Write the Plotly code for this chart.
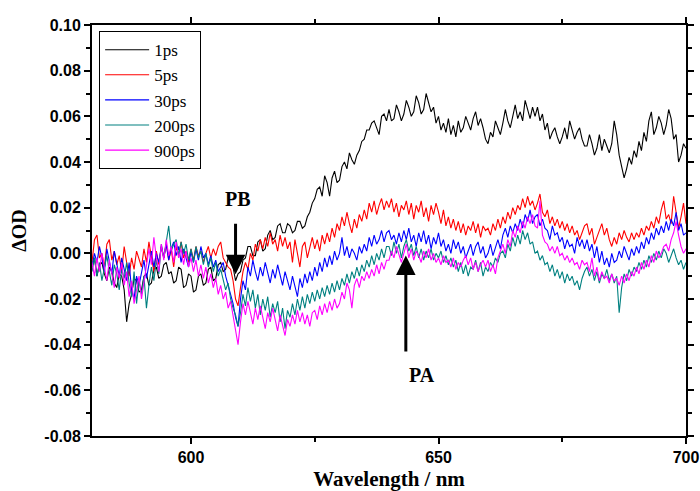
import numpy as np
import plotly.graph_objects as go

wavelength = np.arange(580.0, 700.01, 0.5)

od_1ps = [
    -0.006, -0.002, -0.010, -0.005, -0.004, -0.009, -0.012, -0.006, -0.008, -0.013, -0.015, -0.009, -0.010, -0.016, -0.030, -0.022, -0.018, -0.011, -0.012, -0.017,
    -0.016, -0.010, -0.009, -0.014, -0.013, -0.007, -0.006, -0.011, -0.010, -0.005, -0.004, -0.009, -0.008, -0.013, -0.012, -0.006, -0.007, -0.015, -0.014, -0.009,
    -0.010, -0.017, -0.016, -0.010, -0.009, -0.014, -0.013, -0.007, -0.006, -0.012, -0.011, -0.005, -0.004, -0.008, -0.007, -0.002, -0.003, -0.006, -0.012, -0.009,
    -0.008, -0.003, -0.002, 0.003, 0.003, -0.001, -0.001, 0.005, 0.006, 0.001, 0.002, 0.008, 0.010, 0.006, 0.007, 0.012, 0.013, 0.009, 0.009, 0.013,
    0.012, 0.009, 0.010, 0.014, 0.014, 0.011, 0.012, 0.016, 0.018, 0.022, 0.024, 0.028, 0.029, 0.025, 0.034, 0.031, 0.025, 0.033, 0.036, 0.031,
    0.032, 0.038, 0.040, 0.037, 0.044, 0.041, 0.039, 0.043, 0.045, 0.049, 0.050, 0.054, 0.054, 0.057, 0.058, 0.055, 0.052, 0.060, 0.061, 0.058,
    0.063, 0.058, 0.059, 0.065, 0.062, 0.058, 0.061, 0.067, 0.064, 0.060, 0.062, 0.069, 0.066, 0.061, 0.063, 0.070, 0.066, 0.062, 0.064, 0.057,
    0.060, 0.054, 0.057, 0.053, 0.059, 0.052, 0.056, 0.051, 0.058, 0.053, 0.055, 0.060, 0.057, 0.054, 0.059, 0.062, 0.056, 0.059, 0.055, 0.050,
    0.048, 0.053, 0.051, 0.058, 0.055, 0.052, 0.057, 0.063, 0.058, 0.055, 0.060, 0.065, 0.059, 0.062, 0.058, 0.067, 0.063, 0.059, 0.064, 0.060,
    0.064, 0.058, 0.061, 0.054, 0.057, 0.050, 0.053, 0.055, 0.051, 0.048, 0.051, 0.055, 0.050, 0.058, 0.054, 0.050, 0.053, 0.055, 0.050, 0.047,
    0.047, 0.052, 0.048, 0.043, 0.046, 0.052, 0.045, 0.050, 0.047, 0.044, 0.048, 0.058, 0.052, 0.043, 0.038, 0.033, 0.037, 0.042, 0.039, 0.045,
    0.042, 0.049, 0.045, 0.053, 0.049, 0.058, 0.062, 0.052, 0.055, 0.060, 0.057, 0.052, 0.056, 0.063, 0.059, 0.050, 0.052, 0.040, 0.043, 0.048,
    0.046,
]

od_5ps = [
    -0.004, 0.006, 0.008, -0.002, 0.000, -0.006, 0.004, 0.006, -0.003, 0.001, -0.005, -0.001, -0.008, 0.003, -0.004, -0.010, -0.002, -0.007, 0.001, -0.003,
    -0.006, 0.002, -0.004, 0.005, -0.002, -0.008, 0.001, -0.005, 0.003, -0.002, 0.004, -0.003, 0.002, -0.006, 0.003, -0.001, 0.005, -0.002, 0.001, -0.004,
    0.002, -0.003, 0.003, -0.001, 0.001, -0.004, 0.000, 0.003, -0.002, 0.002, -0.001, 0.003, 0.005, -0.002, -0.004, -0.006, -0.007, -0.012, -0.020, -0.023,
    -0.015, -0.008, -0.004, -0.007, 0.000, -0.003, 0.004, 0.001, 0.006, 0.002, 0.007, 0.003, 0.009, 0.004, 0.006, 0.001, 0.008, 0.003, 0.007, 0.002,
    0.005, -0.004, 0.006, 0.000, -0.006, 0.003, 0.005, -0.002, 0.003, 0.007, 0.002, 0.006, 0.001, 0.008, 0.004, 0.009, 0.005, 0.011, 0.007, 0.013,
    0.010, 0.016, 0.012, 0.018, 0.013, 0.009, 0.015, 0.011, 0.017, 0.014, 0.019, 0.015, 0.022, 0.018, 0.023, 0.017, 0.021, 0.024, 0.019, 0.023,
    0.020, 0.024, 0.018, 0.022, 0.016, 0.021, 0.019, 0.023, 0.017, 0.022, 0.015, 0.021, 0.018, 0.023, 0.016, 0.020, 0.014, 0.021, 0.017, 0.022,
    0.018, 0.013, 0.019, 0.012, 0.016, 0.011, 0.015, 0.010, 0.014, 0.009, 0.013, 0.008, 0.012, 0.010, 0.014, 0.009, 0.013, 0.007, 0.012, 0.010,
    0.011, 0.008, 0.013, 0.010, 0.015, 0.011, 0.016, 0.013, 0.018, 0.015, 0.020, 0.017, 0.021, 0.019, 0.024, 0.020, 0.025, 0.021, 0.023, 0.019,
    0.022, 0.026, 0.018, 0.016, 0.019, 0.013, 0.016, 0.012, 0.015, 0.011, 0.014, 0.010, 0.013, 0.009, 0.012, 0.008, 0.010, 0.006, 0.009, 0.012,
    0.013, 0.008, 0.011, 0.004, 0.007, 0.010, 0.013, 0.008, 0.011, 0.006, 0.003, 0.007, 0.004, 0.009, 0.006, 0.010, 0.007, 0.005, 0.009, 0.006,
    0.009, 0.007, 0.011, 0.008, 0.012, 0.010, 0.014, 0.011, 0.016, 0.013, 0.019, 0.023, 0.015, 0.017, 0.013, 0.025, 0.018, 0.011, 0.016, 0.022,
    0.013,
]

od_30ps = [
    -0.006, 0.000, -0.004, 0.003, -0.002, -0.008, 0.002, -0.003, -0.009, 0.001, -0.005, -0.010, -0.002, -0.007, -0.012, -0.004, -0.016, -0.020, -0.010, -0.014,
    -0.008, -0.003, -0.011, -0.005, 0.001, -0.006, 0.000, -0.004, 0.003, -0.002, 0.004, -0.003, 0.002, 0.005, -0.001, 0.003, -0.004, 0.002, -0.002, -0.006,
    0.001, -0.004, 0.002, -0.003, 0.003, -0.002, 0.000, -0.005, -0.001, -0.006, -0.003, -0.008, -0.006, -0.004, -0.010, -0.014, -0.018, -0.022, -0.028, -0.032,
    -0.020, -0.012, -0.016, -0.006, -0.010, -0.003, -0.008, -0.012, -0.006, -0.010, -0.004, -0.009, -0.013, -0.007, -0.011, -0.005, -0.009, -0.014, -0.008, -0.012,
    -0.016, -0.010, -0.014, -0.019, -0.011, -0.015, -0.009, -0.013, -0.008, -0.012, -0.006, -0.010, -0.004, -0.008, -0.002, -0.006, -0.001, -0.005, 0.001, -0.003,
    0.000, 0.007, -0.001, 0.003, -0.002, 0.002, 0.000, -0.003, 0.003, 0.000, 0.004, 0.001, 0.007, 0.003, 0.008, 0.004, 0.006, 0.010, 0.005, 0.009,
    0.010, 0.006, 0.008, 0.004, 0.009, 0.005, 0.010, 0.006, 0.011, 0.005, 0.008, 0.003, 0.009, 0.005, 0.010, 0.004, 0.008, 0.002, 0.007, 0.004,
    0.009, 0.003, 0.006, 0.001, 0.004, 0.000, 0.006, 0.002, 0.005, 0.000, 0.003, -0.002, 0.001, 0.004, -0.001, 0.003, 0.005, 0.000, 0.003, -0.002,
    0.000, 0.004, -0.001, 0.003, 0.006, 0.002, 0.008, 0.011, 0.007, 0.012, 0.009, 0.013, 0.010, 0.015, 0.011, 0.017, 0.014, 0.019, 0.013, 0.016,
    0.017, 0.012, 0.015, 0.011, 0.010, 0.006, 0.012, 0.008, 0.009, 0.005, 0.007, 0.002, 0.006, 0.003, 0.004, 0.000, 0.007, 0.003, 0.006, 0.002,
    0.006, 0.001, 0.004, -0.002, 0.003, -0.004, 0.001, -0.005, -0.002, -0.006, 0.000, -0.004, -0.003, 0.001, -0.002, 0.003, 0.000, -0.003, 0.002, -0.001,
    0.003, 0.000, 0.005, 0.002, 0.007, 0.004, 0.009, 0.006, 0.011, 0.008, 0.012, 0.009, 0.014, 0.010, 0.015, 0.012, 0.018, 0.010, 0.013, 0.008,
    0.009,
]

od_200ps = [
    -0.008, -0.002, -0.010, -0.004, -0.012, -0.006, -0.001, -0.008, -0.014, -0.005, -0.009, -0.016, -0.007, -0.011, -0.004, -0.013, -0.019, -0.008, -0.022, -0.012,
    -0.018, -0.010, -0.024, -0.014, -0.006, -0.012, -0.003, -0.009, 0.004, -0.002, 0.005, 0.012, 0.001, 0.004, 0.006, -0.001, 0.005, 0.000, 0.004, -0.003,
    0.002, -0.004, 0.003, -0.002, 0.001, -0.005, 0.000, -0.006, -0.002, -0.008, -0.004, -0.010, -0.007, -0.012, -0.016, -0.013, -0.020, -0.024, -0.027, -0.032,
    -0.026, -0.018, -0.023, -0.015, -0.021, -0.016, -0.024, -0.018, -0.027, -0.020, -0.025, -0.019, -0.028, -0.022, -0.026, -0.021, -0.030, -0.024, -0.033, -0.025,
    -0.028, -0.022, -0.027, -0.020, -0.025, -0.019, -0.024, -0.018, -0.022, -0.017, -0.021, -0.016, -0.020, -0.015, -0.019, -0.014, -0.018, -0.013, -0.017, -0.012,
    -0.016, -0.011, -0.014, -0.009, -0.013, -0.008, -0.011, -0.006, -0.010, -0.005, -0.008, -0.003, -0.006, -0.001, -0.005, 0.000, -0.003, 0.002, -0.002, 0.003,
    0.003, -0.001, 0.005, 0.000, 0.004, -0.002, 0.003, 0.006, 0.001, 0.004, -0.001, 0.003, -0.002, 0.002, -0.003, 0.001, -0.002, 0.002, -0.003, 0.000,
    -0.002, 0.001, -0.004, -0.001, -0.005, -0.002, -0.006, -0.003, -0.008, -0.004, -0.009, -0.005, -0.010, -0.006, -0.007, -0.003, -0.008, -0.004, -0.010, -0.006,
    -0.008, -0.004, -0.006, -0.002, -0.004, 0.000, 0.001, -0.002, 0.004, 0.001, 0.007, 0.003, 0.008, 0.004, 0.010, 0.006, 0.009, 0.004, 0.005, 0.000,
    0.001, -0.003, -0.001, -0.005, -0.004, -0.008, -0.005, -0.010, -0.007, -0.011, -0.008, -0.013, -0.009, -0.012, -0.010, -0.014, -0.012, -0.016, -0.011, -0.008,
    -0.006, -0.010, -0.007, -0.012, -0.008, -0.013, -0.009, -0.011, -0.007, -0.012, -0.009, -0.013, -0.010, -0.026, -0.015, -0.009, -0.012, -0.007, -0.010, -0.006,
    -0.008, -0.004, -0.007, -0.003, -0.006, -0.001, -0.004, 0.000, -0.003, 0.001, -0.002, 0.002, 0.000, -0.004, -0.001, 0.002, -0.002, -0.005, -0.003, -0.007,
    -0.004,
]

od_900ps = [
    -0.004, -0.010, -0.002, -0.008, 0.000, -0.006, -0.012, -0.003, -0.009, -0.015, -0.006, -0.011, -0.004, -0.014, -0.008, -0.019, -0.012, -0.022, -0.016, -0.010,
    -0.020, -0.013, -0.007, 0.002, -0.005, 0.007, -0.002, -0.008, 0.004, -0.003, 0.006, -0.001, 0.003, -0.004, 0.005, -0.002, 0.002, -0.005, 0.001, -0.006,
    -0.002, -0.008, -0.003, -0.010, -0.005, -0.011, -0.006, -0.013, -0.009, -0.015, -0.011, -0.018, -0.014, -0.020, -0.017, -0.024, -0.021, -0.028, -0.034, -0.040,
    -0.030, -0.022, -0.027, -0.021, -0.026, -0.031, -0.024, -0.029, -0.023, -0.028, -0.033, -0.026, -0.030, -0.024, -0.029, -0.034, -0.027, -0.031, -0.036, -0.029,
    -0.032, -0.027, -0.031, -0.025, -0.030, -0.026, -0.031, -0.027, -0.032, -0.026, -0.025, -0.029, -0.023, -0.027, -0.022, -0.026, -0.021, -0.025, -0.020, -0.024,
    -0.022, -0.017, -0.020, -0.013, -0.016, -0.024, -0.014, -0.011, -0.015, -0.010, -0.012, -0.008, -0.011, -0.007, -0.010, -0.005, -0.009, -0.004, -0.007, -0.003,
    -0.003, 0.001, -0.002, 0.003, -0.001, -0.004, 0.000, 0.004, -0.002, 0.002, -0.003, 0.001, -0.001, -0.004, 0.001, -0.002, 0.002, -0.003, 0.000, -0.004,
    -0.002, -0.005, -0.001, -0.004, -0.003, -0.006, -0.002, -0.007, -0.004, -0.006, -0.003, -0.001, -0.005, -0.002, -0.007, -0.004, -0.008, -0.005, -0.003, -0.006,
    -0.003, -0.008, -0.005, -0.009, -0.002, 0.001, 0.004, 0.000, 0.006, 0.003, 0.010, 0.007, 0.012, 0.009, 0.014, 0.011, 0.016, 0.013, 0.017, 0.012,
    0.011, 0.023, 0.008, 0.005, 0.004, 0.001, 0.003, 0.000, 0.003, -0.001, 0.000, -0.003, -0.001, -0.004, -0.002, -0.005, -0.004, -0.007, -0.003, -0.005,
    -0.004, -0.008, -0.002, -0.010, -0.006, -0.012, -0.008, -0.011, -0.010, -0.013, -0.009, -0.012, -0.011, -0.014, -0.010, -0.013, -0.009, -0.012, -0.008, -0.010,
    -0.006, -0.009, -0.004, -0.007, -0.003, -0.006, -0.001, -0.004, 0.001, -0.002, 0.000, 0.003, 0.004, 0.001, 0.006, 0.009, 0.014, 0.008, 0.003, 0.000,
    0.002,
]

series_names = ["1ps", "5ps", "30ps", "200ps", "900ps"]
series_values = [od_1ps, od_5ps, od_30ps, od_200ps, od_900ps]
series_colors = ["#000000", "#ff0000", "#0000ff", "#008080", "#ff00ff"]

x_ticks = [600, 650, 700]
y_ticks = [-0.08, -0.06, -0.04, -0.02, 0.00, 0.02, 0.04, 0.06, 0.08, 0.10]

fig = go.Figure()
for name, vals, col in zip(series_names, series_values, series_colors):
    fig.add_trace(go.Scatter(x=wavelength, y=vals, mode="lines", name=name,
                             line=dict(color=col, width=1.1)))

tick_font = dict(family="Liberation Sans, Arial", size=16, color="black", weight="bold")
serif_bold = dict(family="Liberation Serif, Times New Roman", size=20, color="black", weight="bold")

fig.update_layout(
    width=700, height=491,
    margin=dict(l=92, r=14, t=25, b=55),
    paper_bgcolor="white", plot_bgcolor="white",
    showlegend=True,
    legend=dict(x=0.012, y=0.985, xanchor="left", yanchor="top",
                bordercolor="black", borderwidth=1, bgcolor="white",
                font=dict(family="Liberation Serif, Times New Roman", size=17, color="black"),
                tracegroupgap=0, itemwidth=44),
    xaxis=dict(range=[580, 700], tickvals=x_ticks, ticktext=[str(v) for v in x_ticks],
               automargin=False,
               showgrid=False, zeroline=False, showline=True, linecolor="black", linewidth=2,
               mirror="ticks", ticks="outside", ticklen=6, tickwidth=1.5, tickcolor="black",
               tickfont=tick_font,
               minor=dict(tickvals=[625, 675], ticks="outside", ticklen=4, tickwidth=1.5, tickcolor="black"),
               title=dict(text="Wavelength / nm", font=dict(family="Liberation Serif, Times New Roman",
                                                           size=21, color="black", weight="bold"),
                          standoff=22)),
    yaxis=dict(range=[-0.08, 0.10], tickvals=y_ticks, ticktext=[f"{v:.2f}" for v in y_ticks],
               automargin=False,
               showgrid=False, zeroline=False, showline=True, linecolor="black", linewidth=2,
               mirror="ticks", ticks="outside", ticklen=6, tickwidth=1.5, tickcolor="black",
               tickfont=tick_font,
               minor=dict(dtick=0.01, tick0=0.0, ticks="outside", ticklen=4, tickwidth=1.5, tickcolor="black"),
               title=dict(text="ΔOD", font=serif_bold, standoff=12)),
)

# PB arrow and label
fig.add_annotation(x=609.0, y=-0.0092, ax=609.0, ay=0.0136, xref="x", yref="y", axref="x", ayref="y",
                   showarrow=True, arrowhead=2, arrowsize=1.3, arrowwidth=3, arrowcolor="black", text="")
fig.add_annotation(x=609.5, y=0.0236, xref="x", yref="y", text="PB", showarrow=False,
                   font=serif_bold)
# PA arrow and label
fig.add_annotation(x=643.4, y=-0.001, ax=643.4, ay=-0.0437, xref="x", yref="y", axref="x", ayref="y",
                   showarrow=True, arrowhead=2, arrowsize=1.3, arrowwidth=3, arrowcolor="black", text="")
fig.add_annotation(x=646.7, y=-0.0534, xref="x", yref="y", text="PA", showarrow=False,
                   font=serif_bold)

fig.write_html("out.html")
